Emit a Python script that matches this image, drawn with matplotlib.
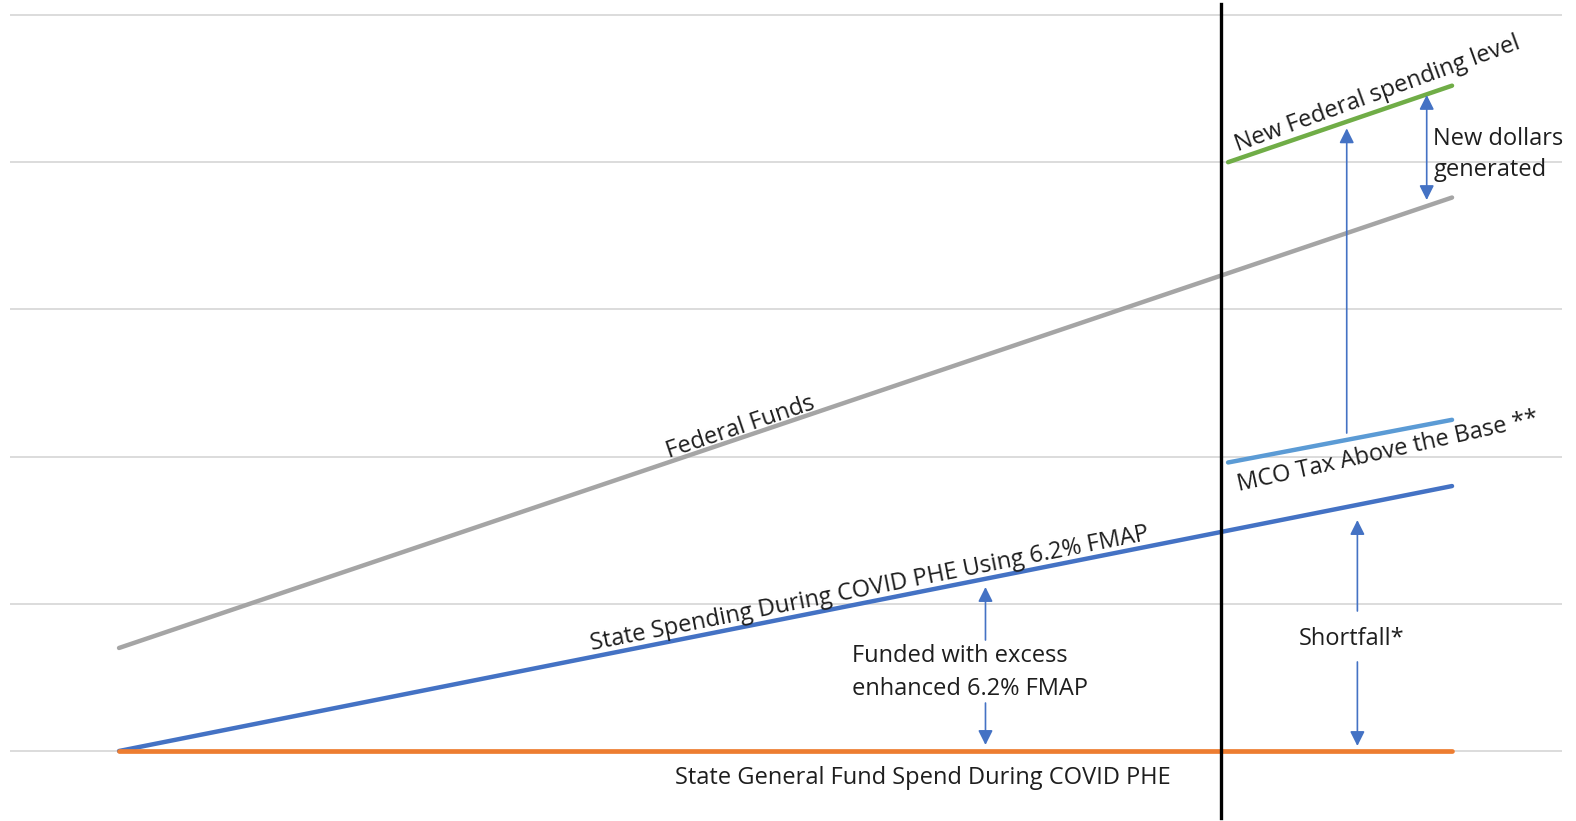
import matplotlib
matplotlib.use("Agg")
import matplotlib.pyplot as plt

plt.rcParams['font.family'] = ['Open Sans', 'DejaVu Sans']

# series (x in periods, y in arbitrary spending units)
x_span = [0, 10]
federal_funds = [0.70, 3.76]
state_enhanced = [0.0, 1.80]
state_gf = [0.0, 0.0]

x_after = [8.32, 10]
mco_tax = [1.96, 2.25]
new_federal = [4.00, 4.52]

phe_end = 8.27
grid_levels = [0, 1, 2, 3, 4, 5]

# arrows: (x, y_from, y_to)
funded_up = (6.50, 0.754, 1.114)
funded_down = (6.50, 0.326, 0.041)
shortfall_up = (9.29, 0.951, 1.569)
shortfall_down = (9.29, 0.605, 0.034)
mco_to_federal = (9.21, 2.16, 4.23)
new_dollars = (9.81, 3.743, 4.457)

fig = plt.figure(figsize=(15.76, 8.21), dpi=100)
ax = fig.add_axes([0, 0, 1, 1])
ax.set_xlim(-0.893, 10.93)
ax.set_ylim(-0.4755, 5.102)
ax.axis('off')

ax.hlines(grid_levels, -0.818, 10.825, color='#d9d9d9', lw=1.3, zorder=1)

ax.plot(x_span, federal_funds, color='#a5a5a5', lw=3.2, solid_capstyle='round', zorder=3)
ax.plot(x_span, state_enhanced, color='#4472c4', lw=3.2, solid_capstyle='round', zorder=3)
ax.plot(x_span, state_gf, color='#ed7d31', lw=3.4, solid_capstyle='round', zorder=4)
ax.plot(x_after, mco_tax, color='#5b9bd5', lw=3.2, solid_capstyle='round', zorder=3)
ax.plot(x_after, new_federal, color='#70ad47', lw=3.2, solid_capstyle='round', zorder=3)

ax.axvline(phe_end, ymin=0.004, ymax=0.995, color='black', lw=2.4, zorder=5)

arrow_color = '#4472c4'


def arrow(spec, style='-|>'):
    x, y0, y1 = spec
    ax.annotate('', xy=(x, y1), xytext=(x, y0),
                arrowprops=dict(arrowstyle=style + ',head_length=0.4,head_width=0.2',
                                color=arrow_color, lw=1.2, mutation_scale=22,
                                shrinkA=0, shrinkB=0), zorder=6)


arrow(funded_up)
arrow(funded_down)
arrow(shortfall_up)
arrow(shortfall_down)
arrow(mco_to_federal)
arrow(new_dollars, '<|-|>')

tc = '#1e1e1e'
fs = 17
ax.text(4.66, 2.20, 'Federal Funds', rotation=18.6, rotation_mode='anchor',
        ha='center', va='center', fontsize=fs, color=tc)
ax.text(5.63, 1.10, 'State Spending During COVID PHE Using 6.2% FMAP', rotation=11.2,
        rotation_mode='anchor', ha='center', va='center', fontsize=fs, color=tc)
ax.text(6.03, -0.185, 'State General Fund Spend During COVID PHE',
        ha='center', va='center', fontsize=fs, color=tc)
ax.text(5.50, 0.535, 'Funded with excess\nenhanced 6.2% FMAP', ha='left', va='center',
        fontsize=fs, color=tc, linespacing=1.5)
ax.text(9.25, 0.761, 'Shortfall*', ha='center', va='center', fontsize=fs, color=tc)
ax.text(9.86, 4.055, 'New dollars\ngenerated', ha='left', va='center', fontsize=fs,
        color=tc, linespacing=1.4)
ax.text(9.52, 2.035, 'MCO Tax Above the Base **', rotation=12.5, rotation_mode='anchor',
        ha='center', va='center', fontsize=fs, color=tc)
ax.text(9.44, 4.46, 'New Federal spending level', rotation=20, rotation_mode='anchor',
        ha='center', va='center', fontsize=fs, color=tc)

fig.savefig('out.png', dpi=100)
